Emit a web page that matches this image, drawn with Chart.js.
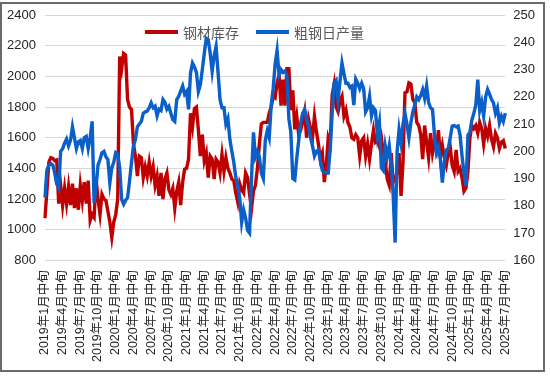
<!DOCTYPE html>
<html><head><meta charset="utf-8">
<script src="https://cdn.jsdelivr.net/npm/chart.js@4.4.1/dist/chart.umd.min.js"></script>
<style>
html,body{margin:0;padding:0;background:#fff;}
#wrap{position:relative;width:550px;height:376px;overflow:hidden;background:#fff;}
#c{position:absolute;left:0;top:0;}
#frame{position:absolute;left:0;top:2px;width:541px;height:366px;border:2px solid #6a6a6a;pointer-events:none;}
</style></head><body>
<div id="wrap"><canvas id="c" width="550" height="376"></canvas><div id="frame"></div></div>
<script>
const seriesNames = ['钢材库存', '粗钢日产量'];
const tickLabels = [
  '2019年1月中旬','2019年4月中旬','2019年7月中旬','2019年10月中旬',
  '2020年1月中旬','2020年4月中旬','2020年7月中旬','2020年10月中旬',
  '2021年1月中旬','2021年4月中旬','2021年7月中旬','2021年10月中旬',
  '2022年1月中旬','2022年4月中旬','2022年7月中旬','2022年10月中旬',
  '2023年1月中旬','2023年4月中旬','2023年7月中旬','2023年10月中旬',
  '2024年1月中旬','2024年4月中旬','2024年7月中旬','2024年10月中旬',
  '2025年1月中旬','2025年4月中旬','2025年7月中旬'
];
const leftTicks = { min: 800, max: 2400, step: 200 };
const rightTicks = { min: 160, max: 250, step: 10 };

// 钢材库存 (left axis), one value per 旬, from 2019年1月中旬
const steelStock = [
  1075,1250,1440,1470,1465,1450,1455,1170,1290,1160,
  1270,1170,1280,1160,1300,1140,1270,1130,1290,1190,
  1310,1170,1320,1060,1100,1080,1330,1200,1100,1230,
  1200,1190,1120,1050,950,1050,1100,1200,2130,2050,
  2150,2140,1850,1800,1785,1560,1480,1350,1480,1470,
  1340,1410,1350,1440,1350,1410,1290,1350,1220,1370,
  1200,1330,1370,1260,1230,1270,1140,1250,1310,1160,
  1310,1395,1400,1460,1760,1670,1790,1800,1650,1480,
  1620,1450,1500,1340,1480,1460,1330,1460,1440,1370,
  1490,1380,1470,1400,1370,1330,1320,1240,1180,1300,
  1260,1240,1370,1340,1230,1135,1250,1290,1400,1560,
  1690,1700,1700,1700,1760,1800,1870,1860,1960,2010,
  1810,1980,1810,2050,2050,1780,1910,1655,1740,1620,
  1650,1700,1770,1600,1720,1660,1600,1740,1640,1560,
  1460,1500,1310,1420,1600,1560,1880,1950,1800,1770,
  1840,1870,1740,1780,1700,1670,1600,1590,1620,1600,
  1480,1580,1600,1480,1560,1460,1560,1650,1570,1580,
  1540,1600,1500,1440,1330,1290,1500,1310,1330,1370,
  1500,1220,1440,1893,1900,1958,1950,1850,1830,1700,
  1680,1620,1460,1680,1570,1470,1630,1500,1570,1520,
  1650,1480,1550,1470,1420,1500,1540,1420,1380,1520,
  1380,1400,1340,1250,1270,1380,1600,1680,1660,1680,
  1630,1700,1660,1560,1660,1610,1680,1590,1540,1630,
  1600,1530,1570,1580,1530
];

// 粗钢日产量 (right axis)
const crudeDaily = [
  183,193,195,195.5,195,192,188,186.5,200,201,
  203,204.5,202,204,209,205,201,203.5,204,201,
  205,205.5,201,205,211,181,187,195,197,199.5,
  200,198,197,188.5,194,196,199.5,199,194,182.4,
  180.6,182,183,189,195.9,202,204.4,209,210,211,
  214,214.5,214.8,216,217.8,216,216.6,213,215.5,215,
  219,218,215.5,216.5,214,211.7,211,219,220.2,222.1,
  224,221,222,215.4,228.8,232.4,231,229,222,224.5,
  230,236,241.5,241,236,229.4,235,238.5,229,219,
  216,216,210,212,204.4,200,196,190.5,187.5,183,
  174,178.5,175.5,171,170,190,207,198,200,198,
  192,190,204,207.5,205,217,223,232,237,228,
  230,229,229.5,228,212,207,190,189.5,197.5,204,
  210.5,214,215.4,212,209,205,202,198.3,200,200.5,
  196.5,193,192.2,192,192,201,214,225,226,219,
  226,232.4,228.5,225,225,223.5,224,217,226.5,225,
  223,225,223,214.5,216,220.2,213,216,215,206,
  210.5,194,193,202,198,202,195.5,184,166.5,200,
  208,203,210,214,210,205,210.5,214.5,217,220,
  219,220.5,222.7,219.5,224,218,216,215.4,206,199.5,
  201.5,197,188.5,196,200.5,201,205,209.3,209.5,209,
  209.3,206,198.3,192,187.3,206,207,211.5,214,217,
  226.3,215,218,213,220,222.7,221,219,217.8,214,
  216,210.5,212.9,211,214
];

const dekadNames = ['上旬', '中旬', '下旬'];
const categories = steelStock.map((_, i) => {
  const k = i + 1;
  const y = 2019 + Math.floor(k / 36);
  const m = Math.floor((k % 36) / 3) + 1;
  return y + '年' + m + '月' + dekadNames[k % 3];
});
const TICK_EVERY = 9;

const FONT = "'Liberation Sans', 'Noto Sans CJK SC', sans-serif";
const RED = '#C00000';
const BLUE = '#0A5FC8';

const insideLegend = {
  id: 'insideLegend',
  afterDatasetsDraw(chart) {
    const ctx = chart.ctx;
    ctx.save();
    ctx.font = "14px 'Noto Sans CJK SC', sans-serif";
    ctx.textBaseline = 'middle';
    ctx.textAlign = 'left';
    let x = 145;
    const y = 32;
    chart.data.datasets.forEach((ds) => {
      ctx.fillStyle = ds.borderColor;
      ctx.fillRect(x, y - 2, 33, 4);
      x += 38;
      ctx.fillStyle = '#595959';
      ctx.fillText(ds.label, x, y + 1);
      x += ctx.measureText(ds.label).width + 17;
    });
    ctx.restore();
  }
};

const plain = (v) => String(v);

new Chart(document.getElementById('c'), {
  type: 'line',
  data: {
    labels: categories,
    datasets: [
      { label: seriesNames[0], data: steelStock, yAxisID: 'y', borderColor: RED, backgroundColor: RED,
        borderWidth: 3.4, pointRadius: 0, tension: 0, order: 2 },
      { label: seriesNames[1], data: crudeDaily, yAxisID: 'y1', borderColor: BLUE, backgroundColor: BLUE,
        borderWidth: 3.4, pointRadius: 0, tension: 0, order: 1 }
    ]
  },
  options: {
    responsive: false,
    animation: false,
    layout: { padding: { left: -2, right: 7, top: 10, bottom: 4 } },
    plugins: { legend: { display: false }, tooltip: { enabled: false } },
    scales: {
      x: {
        type: 'category',
        offset: false,
        grid: { display: false, drawTicks: false },
        border: { display: false },
        ticks: {
          autoSkip: false, maxRotation: 90, minRotation: 90, padding: 10,
          font: { family: FONT, size: 12.5 }, color: '#262626',
          callback: function (v, i) { return i % TICK_EVERY === 0 ? tickLabels[i / TICK_EVERY] : null; }
        }
      },
      y: {
        position: 'left', min: leftTicks.min, max: leftTicks.max,
        ticks: { stepSize: leftTicks.step, padding: 9, font: { family: FONT, size: 13, lineHeight: 0.95 }, color: '#262626', callback: plain },
        grid: { color: '#D9D9D9', lineWidth: 1, drawTicks: false },
        border: { display: false }
      },
      y1: {
        position: 'right', min: rightTicks.min, max: rightTicks.max,
        ticks: { stepSize: rightTicks.step, padding: 8, font: { family: FONT, size: 13, lineHeight: 0.95 }, color: '#262626', callback: plain },
        grid: { display: false, drawTicks: false },
        border: { display: false }
      }
    }
  },
  plugins: [insideLegend]
});
</script>
</body></html>
